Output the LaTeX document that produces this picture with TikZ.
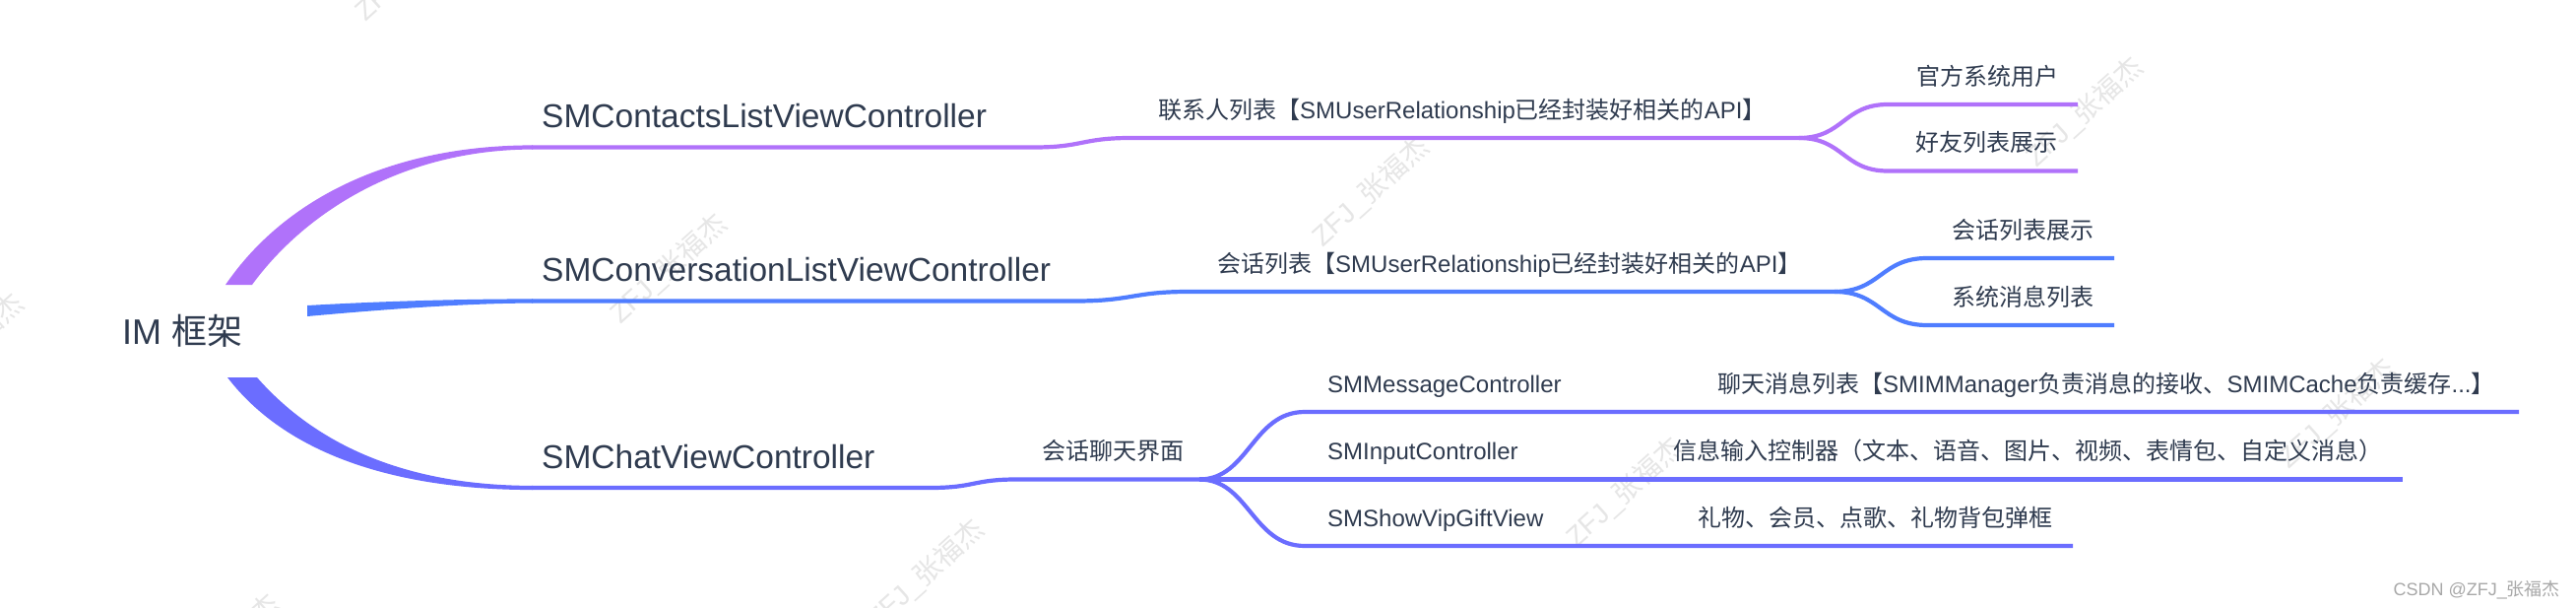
\documentclass[tikz,border=0pt]{standalone}
\usepackage{fontspec}
\setmainfont{Liberation Sans}
\newfontfamily\cjk{Noto Sans CJK SC}
\newcommand{\zh}[1]{{\cjk #1}}
\definecolor{cpurple}{HTML}{B072FA}
\definecolor{cblue}{HTML}{4F7DFF}
\definecolor{cindigo}{HTML}{6B6DFF}
\definecolor{ctext}{HTML}{2F3B4F}
\definecolor{wmgray}{HTML}{E6E6E6}
\definecolor{csdngray}{HTML}{A8A8A8}
\begin{document}
\begin{tikzpicture}[x=1pt,y=-1pt,
  txt/.style={anchor=base west,inner sep=0pt,text=ctext,font=\fontsize{24}{28}\selectfont},
  lone/.style={txt,font=\fontsize{33.5}{40}\selectfont},
  rootnode/.style={txt,font=\fontsize{36}{42}\selectfont},
  lnk/.style={line width=4.2pt},
  wmark/.style={text=wmgray,inner sep=0pt,rotate=42,font=\fontsize{28}{28}\selectfont}]
\useasboundingbox (0,0) rectangle (2616,616);
\fill[white] (0,0) rectangle (2616,616);

% watermarks
\node[wmark] (w1) at (420,-34) {ZFJ\_\zh{张福杰}};
\node[wmark] (w2) at (-35,354) {ZFJ\_\zh{张福杰}};
\node[wmark] (w3) at (679,273) {ZFJ\_\zh{张福杰}};
\node[wmark] (w4) at (940,583) {ZFJ\_\zh{张福杰}};
\node[wmark] (w5) at (225,659) {ZFJ\_\zh{张福杰}};
\node[wmark] (w6) at (1392,195) {ZFJ\_\zh{张福杰}};
\node[wmark] (w7) at (2117,114) {ZFJ\_\zh{张福杰}};
\node[wmark] (w8) at (1650,500) {ZFJ\_\zh{张福杰}};
\node[wmark] (w9) at (2373,420) {ZFJ\_\zh{张福杰}};

% trunks (tapered)
\fill[cpurple] (229,289) .. controls (290,200) and (400,147.4) .. (541,147.4)
  -- (541,151.6) .. controls (410,151.6) and (310,215) .. (256,289) -- cycle;
\fill[cblue] (312,310) .. controls (400,305) and (480,303.4) .. (541,303.4)
  -- (541,307.6) .. controls (480,307.6) and (400,313) .. (312,321) -- cycle;
\fill[cindigo] (231,383) .. controls (290,460) and (400,497.1) .. (541,497.1)
  -- (541,492.9) .. controls (410,492.9) and (320,450) .. (261,383) -- cycle;

% nodes
\node[rootnode] (root) at (124,349) {IM \zh{框架}};
\node[lone] (n1) at (550,129) {SMContactsListViewController};
\node[lone] (n2) at (550,285) {SMConversationListViewController};
\node[lone] (n3) at (550,475) {SMChatViewController};
\node[txt] (n11) at (1176,120) {\zh{联系人列表【}SMUserRelationship\zh{已经封装好相关的}API\zh{】}};
\node[txt] (n111) at (1946,86) {\zh{官方系统用户}};
\node[txt] (n112) at (1945,153.5) {\zh{好友列表展示}};
\node[txt] (n21) at (1236,276) {\zh{会话列表【}SMUserRelationship\zh{已经封装好相关的}API\zh{】}};
\node[txt] (n211) at (1982,242) {\zh{会话列表展示}};
\node[txt] (n212) at (1982,310) {\zh{系统消息列表}};
\node[txt] (n31) at (1058,466.5) {\zh{会话聊天界面}};
\node[txt] (n311) at (1348,398) {SMMessageController};
\node[txt] (n3111) at (1744,398) {\zh{聊天消息列表【}SMIMManager\zh{负责消息的接收、}SMIMCache\zh{负责缓存}...\zh{】}};
\node[txt] (n312) at (1348,466.5) {SMInputController};
\node[txt] (n3121) at (1699,466.5) {\zh{信息输入控制器（文本、语音、图片、视频、表情包、自定义消息）}};
\node[txt] (n313) at (1348,534) {SMShowVipGiftView};
\node[txt] (n3131) at (1724,534) {\zh{礼物、会员、点歌、礼物背包弹框}};

\node[anchor=base east,inner sep=0pt,text=csdngray,font=\fontsize{18}{20}\selectfont] (csdn) at (2600,604) {CSDN @ZFJ\_\zh{张福杰}};

% purple branch
\coordinate (Pa) at (540,149.5);
\coordinate (Pb) at (1050,149.5);
\coordinate (Pc) at (1148,140);
\coordinate (Pd) at (1827,140);
\coordinate (Pu) at (1917,106);
\coordinate (Pue) at (2110,106);
\coordinate (Pl) at (1917,173.5);
\coordinate (Ple) at (2110,173.5);
\draw[lnk,cpurple] (Pa) -- (Pb) .. controls (1100,149.5) and (1098,140) .. (Pc) -- (Pd);
\draw[lnk,cpurple] (Pd) .. controls (1872,140) and (1872,106) .. (Pu) -- (Pue);
\draw[lnk,cpurple] (Pd) .. controls (1872,140) and (1872,173.5) .. (Pl) -- (Ple);

% blue branch
\coordinate (Ba) at (540,305.5);
\coordinate (Bb) at (1092,305.5);
\coordinate (Bc) at (1207,296);
\coordinate (Bd) at (1863,296);
\coordinate (Bu) at (1957,262);
\coordinate (Bue) at (2147,262);
\coordinate (Bl) at (1957,330);
\coordinate (Ble) at (2147,330);
\draw[lnk,cblue] (Ba) -- (Bb) .. controls (1150,305.5) and (1150,296) .. (Bc) -- (Bd);
\draw[lnk,cblue] (Bd) .. controls (1910,296) and (1910,262) .. (Bu) -- (Bue);
\draw[lnk,cblue] (Bd) .. controls (1910,296) and (1910,330) .. (Bl) -- (Ble);

% indigo branch
\coordinate (Ia) at (540,495);
\coordinate (Ib) at (945,495);
\coordinate (Ic) at (1032,486.5);
\coordinate (Id) at (1218,486.5);
\coordinate (Iu) at (1325,418);
\coordinate (Iue) at (2558,418);
\coordinate (Ime) at (2440,486.5);
\coordinate (Il) at (1325,554);
\coordinate (Ile) at (2105,554);
\draw[lnk,cindigo] (Ia) -- (Ib) .. controls (990,495) and (988,486.5) .. (Ic) -- (Id);
\draw[lnk,cindigo] (Id) .. controls (1268,486.5) and (1272,418) .. (Iu) -- (Iue);
\draw[lnk,cindigo] (Id) -- (Ime);
\draw[lnk,cindigo] (Id) .. controls (1268,486.5) and (1272,554) .. (Il) -- (Ile);
\end{tikzpicture}
\end{document}
